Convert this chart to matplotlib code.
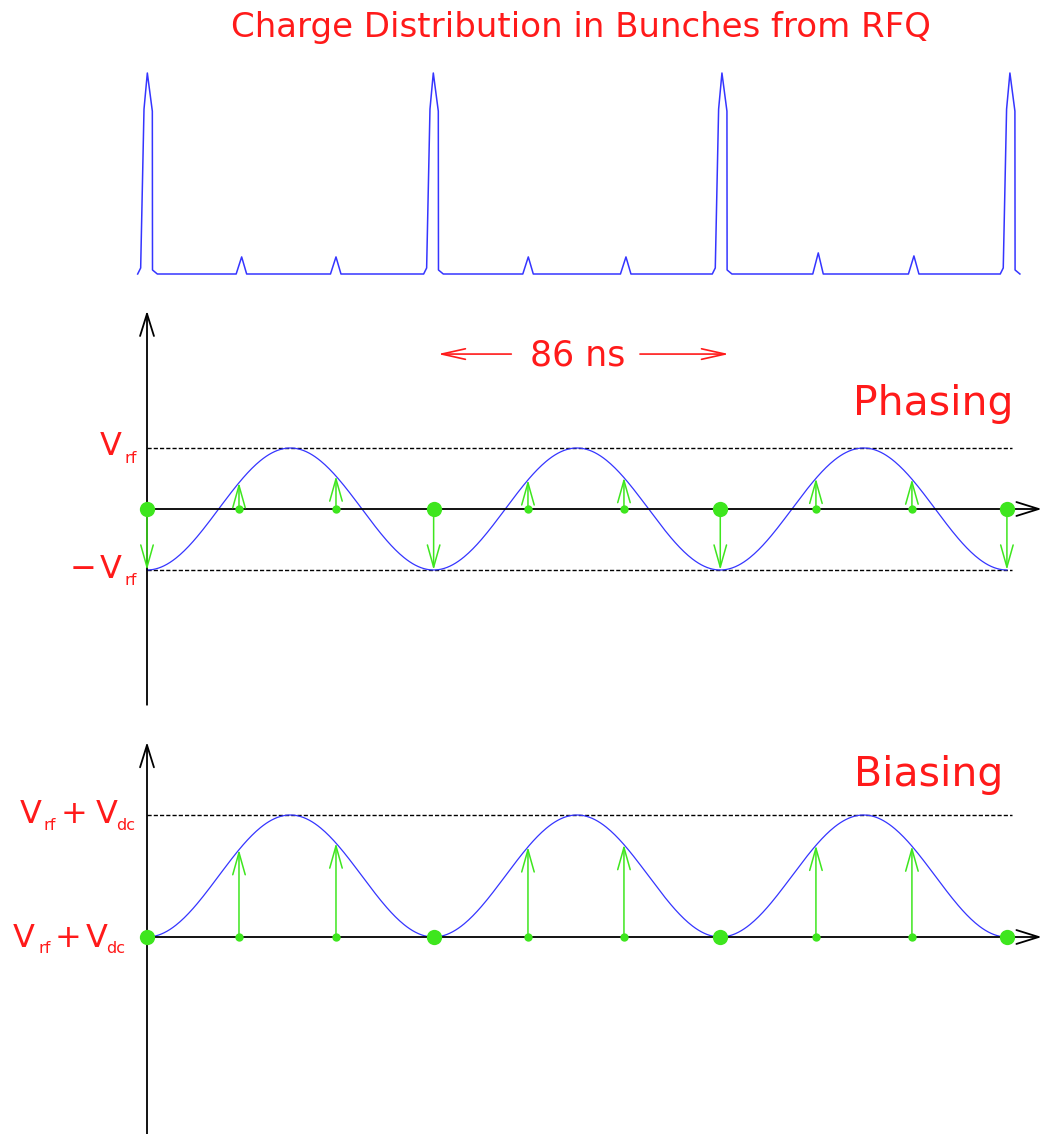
import numpy as np
import matplotlib
matplotlib.use('Agg')
import matplotlib.pyplot as plt
import matplotlib.transforms as mtransforms

W, H, DPI = 1042, 1134, 100

# ---------------- data ----------------
rf_period_ns = 86.0
# charge distribution (top panel), times in ns, charge normalised to main bunch
big_bunch_t = [0.1, 85.9, 172.5, 258.9]
big_bunch_q = [1.0, 1.0, 1.0, 1.0]
sat_bunch_t = [28.4, 56.7, 114.4, 143.7, 201.4, 230.1]
sat_bunch_q = [0.085, 0.085, 0.085, 0.085, 0.105, 0.09]
big_profile_dt = [-2.9, -2.0, -1.0, 0.0, 1.5, 1.55, 3.0]
big_profile_q = [0.0, 0.03, 0.82, 1.0, 0.81, 0.02, 0.0]
sat_profile_dt = [-1.65, 0.0, 1.5]
sat_profile_q = [0.0, 1.0, 0.0]

# bunch arrival times used in the kicker panels
main_t = [0.0, 86.0, 172.0, 258.0]
sat_t = [27.6, 56.7, 114.3, 143.1, 200.7, 229.5]
curve_t_end = 258.0
dashed_t_end = 259.5
span_tips = [87.3, 174.6]      # "86 ns" arrow tips
span_tails = [109.3, 147.9]

RED = '#ff1a1a'
BLUE = '#3535ff'
GREEN = '#3ee61e'

# ---------------- figure ----------------
fig = plt.figure(figsize=(W / DPI, H / DPI), dpi=DPI)
px_per_ns = 3.333
t0_px = 147
xlim = (-t0_px / px_per_ns, (W - t0_px) / px_per_ns)


def make_ax(top_px, bottom_px, zero_px, px_per_unit):
    ax = fig.add_axes([0, 1 - bottom_px / H, 1, (bottom_px - top_px) / H])
    ax.set_xlim(*xlim)
    ax.set_ylim(-(bottom_px - zero_px) / px_per_unit, (zero_px - top_px) / px_per_unit)
    ax.axis('off')
    return ax


def arrow(ax, tail, tip, color, lw, hl, hw):
    ax.annotate('', xy=tip, xytext=tail, annotation_clip=False,
                arrowprops=dict(arrowstyle=f'->,head_length={hl},head_width={hw}',
                                color=color, lw=lw, shrinkA=0, shrinkB=0,
                                mutation_scale=1))


renderer = fig.canvas.get_renderer()


def label(ax, x, y, pieces):
    """pieces: (text, size, dy_pt, gap_right_pt) drawn right-to-left ending at x."""
    off = 0.0
    for txt, fs, dy, gap in reversed(pieces):
        off += gap
        tr = mtransforms.offset_copy(ax.transData, fig=fig, x=-off, y=dy, units='points')
        t = ax.text(x, y, txt, fontsize=fs, color=RED, ha='right', va='baseline',
                    transform=tr, clip_on=False)
        bb = t.get_window_extent(renderer)
        off += bb.width * 72.0 / DPI


# ---- top panel: charge distribution ----
ax1 = make_ax(60, 290, 274, 201)
qt, qv = [], []
for c, h in zip(big_bunch_t, big_bunch_q):
    qt += [c + d for d in big_profile_dt]
    qv += [h * p for p in big_profile_q]
for c, h in zip(sat_bunch_t, sat_bunch_q):
    qt += [c + d for d in sat_profile_dt]
    qv += [h * p for p in sat_profile_q]
order = np.argsort(qt)
ax1.plot(np.array(qt)[order], np.array(qv)[order], color=BLUE, lw=1.1)
fig.text(581 / W, 1 - 37 / H, 'Charge Distribution in Bunches from RFQ',
         color=RED, fontsize=24.5, ha='center', va='baseline')

# ---- middle panel: phasing ----
ax2 = make_ax(300, 720, 509, 61)
tt = np.linspace(0, curve_t_end, 600)
phase = lambda t: -np.cos(2 * np.pi * np.asarray(t) / rf_period_ns)
ax2.plot(tt, phase(tt), color=BLUE, lw=0.9, zorder=3)
for v in (1, -1):
    ax2.plot([0, dashed_t_end], [v, v], color='k', lw=1.0, ls=(0, (3, 1.5)))
arrow(ax2, (0, -3.21), (0, 3.25), 'k', 1.3, 16, 5)
arrow(ax2, (0, 0), (xlim[1] - 0.1, 0), 'k', 1.3, 16, 5)
for t in main_t + sat_t:
    arrow(ax2, (t, 0), (t, float(phase(t))), GREEN, 1.1, 16, 4.5)
ax2.plot(sat_t, [0] * len(sat_t), 'o', color=GREEN, ms=6, mec='none', zorder=5)
ax2.plot(main_t, [0] * len(main_t), 'o', color=GREEN, ms=11, mec='none', zorder=5)
ax2.text(260.0, 1.54, 'Phasing', color=RED, fontsize=29.5, ha='right', va='baseline')
ax2.text(129.3, 2.36, '86 ns', color=RED, fontsize=25, ha='center', va='baseline')
for tail, tip in zip(span_tails, span_tips):
    arrow(ax2, (tail, 2.54), (tip, 2.54), RED, 1.2, 17, 3.8)
label(ax2, -3.0, 1, [('V', 23, -5, 2.5), ('rf', 11.5, -10.8, 0)])
label(ax2, -3.0, -1, [('\u2212', 23, -5.8, 2.0), ('V', 23, -5.8, 2.5), ('rf', 11.5, -11, 0)])

# ---- bottom panel: biasing ----
ax3 = make_ax(730, 1134, 937, 122)
bias = lambda t: (1 - np.cos(2 * np.pi * np.asarray(t) / rf_period_ns)) / 2
ax3.plot(tt, bias(tt), color=BLUE, lw=0.9, zorder=3)
ax3.plot([0, dashed_t_end], [1, 1], color='k', lw=1.0, ls=(0, (3, 1.5)))
arrow(ax3, (0, -1.62), (0, 1.598), 'k', 1.3, 16, 5)
arrow(ax3, (0, 0), (xlim[1] - 0.1, 0), 'k', 1.3, 16, 5)
for t in sat_t:
    arrow(ax3, (t, 0), (t, float(bias(t))), GREEN, 1.1, 16, 4.5)
ax3.plot(sat_t, [0] * len(sat_t), 'o', color=GREEN, ms=6, mec='none', zorder=5)
ax3.plot(main_t, [0] * len(main_t), 'o', color=GREEN, ms=11, mec='none', zorder=5)
ax3.text(257.0, 1.24, 'Biasing', color=RED, fontsize=29.5, ha='right', va='baseline')
label(ax3, -3.6, 1, [('V', 23, -6, 1.5), ('rf', 11.5, -10.5, 3), ('+', 23, -6, 6),
                     ('V', 23, -6, -1), ('dc', 11.5, -10.5, 0)])
label(ax3, -6.6, 0, [('V', 23, -7.5, 2.5), ('rf', 11.5, -11.8, 3), ('+', 23, -7.5, 3),
                     ('V', 23, -7.5, -1), ('dc', 11.5, -11.8, 0)])

fig.savefig('out.png', dpi=DPI)
